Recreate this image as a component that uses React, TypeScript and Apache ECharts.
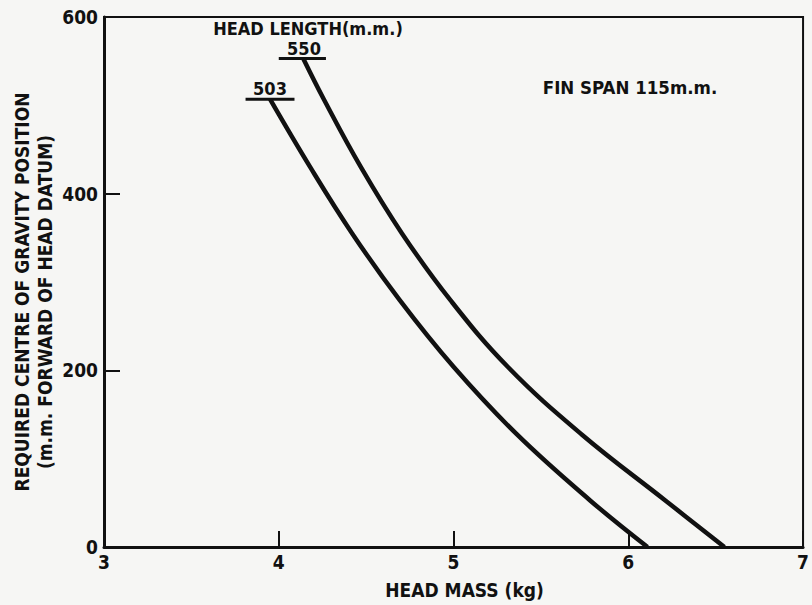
import React, { useEffect, useRef } from "react";
import * as echarts from "echarts";

// Head mass (kg) vs required CG position (mm forward of head datum)
const curve503Mass = [3.95, 4.18, 4.42, 4.69, 5.0, 5.36, 5.78, 6.11];
const curve503Cg = [507, 430, 355, 280, 204, 128, 53, 0];
const curve550Mass = [4.14, 4.26, 4.47, 4.705, 4.98, 5.31, 5.73, 6.21, 6.55];
const curve550Cg = [553, 506, 430, 355, 280, 204, 128, 53, 0];

// short horizontal end-marks of each curve
const mark503Mass = [3.81, 4.09];
const mark503Cg = [507, 507];
const mark550Mass = [4.0, 4.27];
const mark550Cg = [553, 553];

const xTicks = [3, 4, 5, 6, 7];
const yTicks = [0, 200, 400, 600];

const FONT = '"DejaVu Sans Condensed", "Liberation Sans Narrow", sans-serif';
const INK = "#111111";

const zip = (xs: number[], ys: number[]) => xs.map((x, i) => [x, ys[i]]);

export default function App() {
  const ref = useRef<HTMLDivElement>(null);

  useEffect(() => {
    if (!ref.current) return;
    const chart = echarts.init(ref.current, undefined, { renderer: "svg" });
    const lineStyle = { color: INK, width: 4.5 };
    const txt = (text: string, x: number, y: number, size: number, rotation = 0) => ({
      type: "text",
      x,
      y,
      rotation,
      style: {
        text,
        fill: INK,
        font: `bold ${size}px ${FONT}`,
        textAlign: "center",
        textVerticalAlign: "middle",
      },
    });
    const option: any = {
      animation: false,
      backgroundColor: "#f6f6f4",
      grid: {
        left: 104,
        right: 2,
        top: 17,
        bottom: 58,
        show: true,
        borderColor: INK,
        borderWidth: 2,
        backgroundColor: "transparent",
      },
      xAxis: {
        type: "value",
        min: xTicks[0],
        max: xTicks[xTicks.length - 1],
        interval: 1,
        name: "HEAD MASS (kg)",
        nameLocation: "middle",
        nameGap: 33,
        nameTextStyle: {
          color: INK,
          fontFamily: FONT,
          fontWeight: "bold",
          fontSize: 19,
          padding: [0, 0, 0, 22],
        },
        axisLine: { show: true, lineStyle: { color: INK, width: 3 } },
        axisTick: { show: true, inside: true, length: 16, lineStyle: { color: INK, width: 2 } },
        axisLabel: { color: INK, fontFamily: FONT, fontWeight: "bold", fontSize: 19, margin: 5 },
        splitLine: { show: false },
      },
      yAxis: {
        type: "value",
        min: yTicks[0],
        max: yTicks[yTicks.length - 1],
        interval: 200,
        axisLine: { show: true, lineStyle: { color: INK, width: 3 } },
        axisTick: { show: true, inside: true, length: 16, lineStyle: { color: INK, width: 2 } },
        axisLabel: { color: INK, fontFamily: FONT, fontWeight: "bold", fontSize: 19, margin: 6 },
        splitLine: { show: false },
      },
      series: [
        {
          name: "503",
          type: "line",
          data: zip(curve503Mass, curve503Cg),
          smooth: 0.4,
          symbol: "none",
          lineStyle,
        },
        {
          name: "550",
          type: "line",
          data: zip(curve550Mass, curve550Cg),
          smooth: 0.4,
          symbol: "none",
          lineStyle,
        },
        {
          name: "mark503",
          type: "line",
          data: zip(mark503Mass, mark503Cg),
          symbol: "none",
          lineStyle: { color: INK, width: 3 },
        },
        {
          name: "mark550",
          type: "line",
          data: zip(mark550Mass, mark550Cg),
          symbol: "none",
          lineStyle: { color: INK, width: 3 },
        },
      ],
      graphic: [
        txt("HEAD LENGTH(m.m.)", 308, 28, 18),
        txt("550", 304, 48, 18),
        txt("503", 270, 88, 18),
        txt("FIN SPAN 115m.m.", 630, 87, 18.5),
        txt("REQUIRED CENTRE OF GRAVITY POSITION", 22, 292, 19, Math.PI / 2),
        txt("(m.m. FORWARD OF HEAD DATUM)", 45, 302, 19, Math.PI / 2),
      ],
    };
    chart.setOption(option);
    return () => chart.dispose();
  }, []);

  return (
    <div
      ref={ref}
      style={{ position: "fixed", left: 0, top: 0, width: 812, height: 605 }}
    />
  );
}
